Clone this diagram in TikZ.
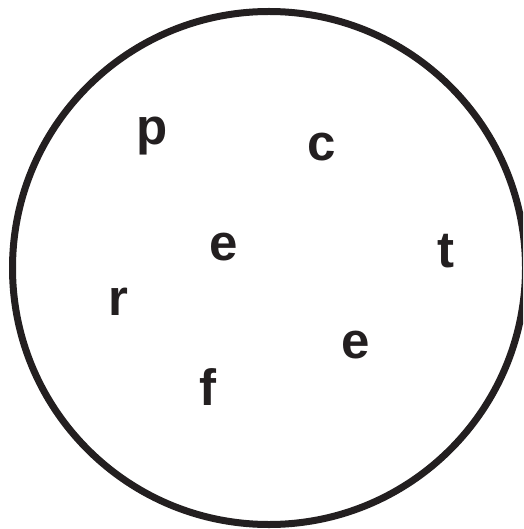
\documentclass[tikz,border=0pt]{standalone}
\usepackage{fontspec}
\setmainfont{Liberation Sans}
\definecolor{ink}{HTML}{231F20}
\begin{document}
\begin{tikzpicture}[x=1pt,y=-1pt,
  lett/.style={anchor=base,inner sep=0pt,text=ink,font=\fontsize{51}{51}\selectfont\bfseries}]
\useasboundingbox (0,0) rectangle (523,529);
\clip (0,0) rectangle (523,529);
\draw[ink,line width=7pt] (269,268) circle[radius=256.5];
\node[lett] (p) at (152,145) {p};
\node[lett] (c) at (322,161) {c};
\node[lett] (e1) at (224,260) {e};
\node[lett] (t) at (446,267) {t};
\node[lett] (r) at (118,315) {r};
\node[lett] (e2) at (356,358) {e};
\node[lett] (f) at (208,405) {f};
\end{tikzpicture}
\end{document}
